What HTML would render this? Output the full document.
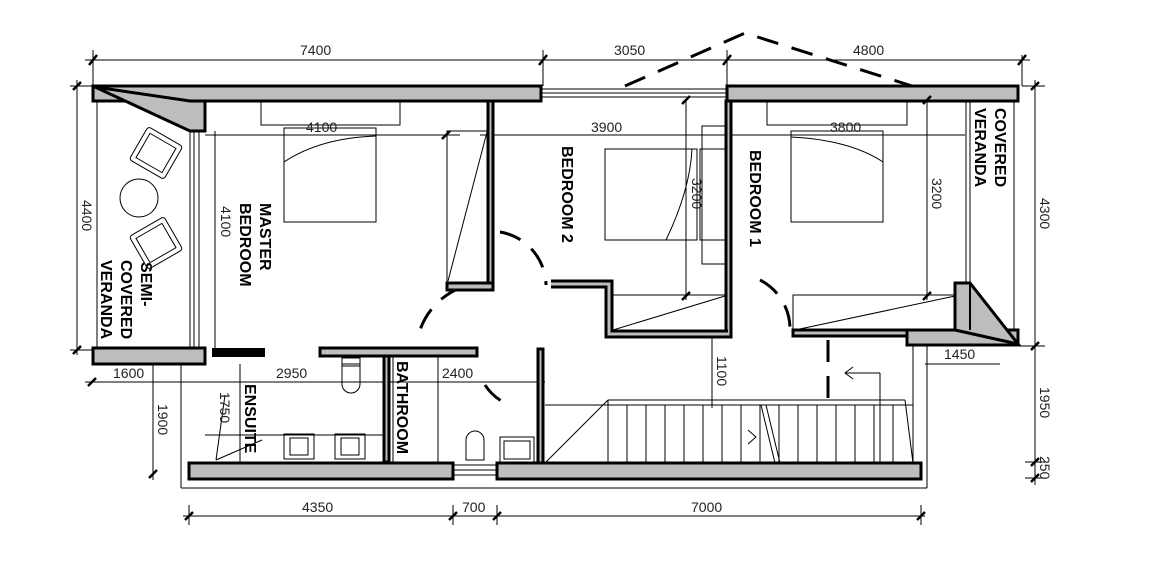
<!DOCTYPE html>
<html><head><meta charset="utf-8"><style>
html,body{margin:0;padding:0;background:#fff}
svg{display:block}
text{font-family:"Liberation Sans",sans-serif}
.d{font-size:14px;fill:#222}
.l{font-size:16px;fill:#000;font-weight:bold}
</style></head><body>
<svg width="1169" height="585" viewBox="0 0 1169 585" xmlns="http://www.w3.org/2000/svg">
<g fill="none" stroke="#000" stroke-width="1">
<line x1="85" y1="60" x2="1030" y2="60"/>
<line x1="93" y1="50" x2="93" y2="86"/><line x1="543" y1="50" x2="543" y2="86"/><line x1="727" y1="50" x2="727" y2="86"/><line x1="1022" y1="55" x2="1022" y2="86"/>
<line x1="77" y1="80" x2="77" y2="355"/><line x1="70" y1="86" x2="93" y2="86"/><line x1="70" y1="350" x2="93" y2="350"/>
<line x1="1035" y1="80" x2="1035" y2="485"/><line x1="1022" y1="86" x2="1045" y2="86"/><line x1="1018" y1="346" x2="1045" y2="346"/><line x1="1025" y1="462" x2="1045" y2="462"/><line x1="1025" y1="478" x2="1045" y2="478"/>
<line x1="183" y1="516" x2="925" y2="516"/>
<line x1="189" y1="505" x2="189" y2="525"/><line x1="453" y1="505" x2="453" y2="525"/><line x1="497" y1="505" x2="497" y2="525"/><line x1="921" y1="505" x2="921" y2="525"/>
<line x1="205" y1="135" x2="460" y2="135"/><line x1="480" y1="135" x2="965" y2="135"/>
<line x1="85" y1="382" x2="545" y2="382"/>
<line x1="215" y1="131" x2="215" y2="352"/>
<line x1="686" y1="100" x2="686" y2="300"/><line x1="927" y1="94" x2="927" y2="300"/>
<line x1="712" y1="337" x2="712" y2="408"/>
<line x1="153" y1="355" x2="153" y2="480"/>
<line x1="925" y1="364" x2="1000" y2="364"/>
<line x1="240" y1="364" x2="240" y2="470"/>
<line x1="181" y1="352" x2="181" y2="488"/><line x1="181" y1="488" x2="927" y2="488"/><line x1="927" y1="346" x2="927" y2="488"/>
<line x1="913" y1="346" x2="913" y2="463"/>
<line x1="541" y1="89" x2="727" y2="89"/><line x1="541" y1="93" x2="727" y2="93"/><line x1="541" y1="97" x2="727" y2="97"/>
<line x1="97" y1="88" x2="97" y2="348"/><line x1="190" y1="131" x2="190" y2="348"/><line x1="194" y1="131" x2="194" y2="348"/><line x1="199" y1="131" x2="199" y2="348"/>
<line x1="966" y1="101" x2="966" y2="283"/><line x1="970" y1="101" x2="970" y2="283"/><line x1="1014" y1="101" x2="1014" y2="330"/>
<rect x="261" y="101" width="139" height="24"/><rect x="284" y="128" width="92" height="94"/>
<path d="M284 162 Q320 138 376 136"/>
<rect x="605" y="149" width="92" height="91"/><rect x="700" y="149" width="27" height="91"/><rect x="702" y="126" width="25" height="138"/>
<path d="M666 240 Q690 190 692 149"/>
<rect x="767" y="101" width="140" height="24"/><rect x="791" y="131" width="92" height="91"/><path d="M791 137 Q850 140 883 162"/>
<rect x="447" y="131" width="41" height="152"/><line x1="448" y1="281" x2="487" y2="132"/>
<line x1="610" y1="295" x2="725" y2="295"/><line x1="613" y1="330" x2="725" y2="296"/>
<rect x="793" y="295" width="162" height="35"/><line x1="795" y1="330" x2="955" y2="296"/>
<g transform="rotate(30 156 153)"><rect x="136" y="134" width="40" height="38" rx="3"/><rect x="141" y="139" width="30" height="28"/></g>
<circle cx="139" cy="198" r="19"/>
<g transform="rotate(-30 156 243)"><rect x="136" y="224" width="40" height="38" rx="3"/><rect x="141" y="229" width="30" height="28"/></g>
<rect x="284" y="434" width="30" height="25"/><rect x="290" y="438" width="18" height="17"/>
<rect x="335" y="434" width="30" height="25"/><rect x="341" y="438" width="18" height="17"/>
<line x1="205" y1="435" x2="383" y2="435"/>
<path d="M342 364 v20 a9 9 0 0 0 18 0 v-20 z"/><rect x="342" y="358" width="18" height="8"/>
<path d="M466 460 v-20 a9 9 0 0 1 18 0 v20 z"/>
<rect x="500" y="437" width="34" height="26"/><rect x="504" y="441" width="26" height="18"/>
<rect x="393" y="357" width="45" height="105"/>
<line x1="453" y1="465" x2="497" y2="465"/><line x1="453" y1="470" x2="497" y2="470"/><line x1="453" y1="475" x2="497" y2="475"/>
<line x1="545" y1="405" x2="913" y2="405"/><line x1="608" y1="400" x2="905" y2="400"/>
<line x1="608" y1="400" x2="545" y2="463"/><line x1="905" y1="400" x2="913" y2="463"/>
<line x1="608" y1="400" x2="608" y2="463"/><line x1="627" y1="405" x2="627" y2="463"/><line x1="646" y1="405" x2="646" y2="463"/><line x1="665" y1="405" x2="665" y2="463"/><line x1="684" y1="405" x2="684" y2="463"/><line x1="703" y1="405" x2="703" y2="463"/><line x1="722" y1="405" x2="722" y2="463"/><line x1="741" y1="405" x2="741" y2="463"/><line x1="760" y1="405" x2="760" y2="463"/><line x1="779" y1="405" x2="779" y2="463"/><line x1="798" y1="405" x2="798" y2="463"/><line x1="817" y1="405" x2="817" y2="463"/><line x1="836" y1="405" x2="836" y2="463"/><line x1="855" y1="405" x2="855" y2="463"/><line x1="874" y1="405" x2="874" y2="463"/><line x1="893" y1="405" x2="893" y2="463"/>
<line x1="761" y1="405" x2="775" y2="463"/><line x1="766" y1="405" x2="780" y2="463"/>
<polyline points="748,430 756,437 748,444"/><line x1="845" y1="373" x2="880" y2="373"/><polyline points="853,367 845,373 853,379"/><line x1="880" y1="373" x2="880" y2="463"/>
<line x1="216" y1="460" x2="262" y2="440"/><line x1="216" y1="460" x2="225" y2="395"/>
</g>
<g fill="none" stroke="#000" stroke-width="3" stroke-dasharray="22 14">
<polyline points="625,86 745,33 912,86"/>
<path d="M500 232 A55 55 0 0 1 546 285"/>
<path d="M460 288 A70 70 0 0 0 420 330"/>
<path d="M485 385 A50 50 0 0 0 510 405"/>
<path d="M760 280 A55 55 0 0 1 790 330"/>
<line x1="828" y1="340" x2="828" y2="405"/>
</g>
<g fill="#bdbdbd" stroke="#000" stroke-width="3">
<rect x="93" y="86" width="448" height="15"/>
<polygon points="95,87 190,101 205,101 205,131 190,131"/>
<rect x="488" y="101" width="5" height="184"/>
<rect x="447" y="283" width="46" height="7"/>
<rect x="727" y="86" width="291" height="15"/>
<rect x="726" y="101" width="5" height="236"/>
<rect x="793" y="330" width="114" height="6"/>
<rect x="907" y="330" width="111" height="15"/>
<polygon points="955,283 970,283 1018,344 955,330"/>
<line x1="970" y1="283" x2="970" y2="330" stroke-width="2"/>
<rect x="93" y="348" width="112" height="16"/>
<rect x="320" y="348" width="157" height="8"/>
<rect x="384" y="356" width="5" height="106"/>
<rect x="538" y="349" width="5" height="114"/>
<rect x="189" y="463" width="264" height="16"/>
<rect x="497" y="463" width="424" height="16"/>
</g>
<polyline points="551,284 609,284 609,334 728,334" fill="none" stroke="#000" stroke-width="9"/>
<polyline points="551,284 609,284 609,334 728,334" fill="none" stroke="#bdbdbd" stroke-width="3"/>
<rect x="212" y="348" width="53" height="9" fill="#000"/>
<g stroke="#000" stroke-width="2.5">
<line x1="89" y1="65" x2="97" y2="55"/><line x1="539" y1="65" x2="547" y2="55"/><line x1="723" y1="65" x2="731" y2="55"/><line x1="1018" y1="65" x2="1026" y2="55"/>
<line x1="73" y1="90" x2="81" y2="82"/><line x1="73" y1="354" x2="81" y2="346"/>
<line x1="1031" y1="90" x2="1039" y2="82"/><line x1="1031" y1="350" x2="1039" y2="342"/><line x1="1031" y1="466" x2="1039" y2="458"/><line x1="1031" y1="482" x2="1039" y2="474"/>
<line x1="185" y1="520" x2="193" y2="512"/><line x1="449" y1="520" x2="457" y2="512"/><line x1="493" y1="520" x2="501" y2="512"/><line x1="917" y1="520" x2="925" y2="512"/>
<line x1="442" y1="139" x2="450" y2="131"/><line x1="682" y1="104" x2="690" y2="96"/><line x1="682" y1="300" x2="690" y2="292"/><line x1="923" y1="104" x2="931" y2="96"/><line x1="923" y1="300" x2="931" y2="292"/>
<line x1="149" y1="478" x2="157" y2="470"/><line x1="88" y1="386" x2="96" y2="378"/>
</g>
<g class="d">
<text x="300" y="55">7400</text><text x="614" y="55">3050</text><text x="853" y="55">4800</text>
<text x="306" y="132">4100</text><text x="591" y="132">3900</text><text x="830" y="132">3800</text>
<text x="113" y="378">1600</text><text x="276" y="378">2950</text><text x="442" y="378">2400</text>
<text x="944" y="359">1450</text>
<text x="302" y="512">4350</text><text x="462" y="512">700</text><text x="691" y="512">7000</text>
<text transform="translate(82,200) rotate(90)">4400</text>
<text transform="translate(221,206) rotate(90)">4100</text>
<text transform="translate(692,178) rotate(90)">3200</text>
<text transform="translate(932,178) rotate(90)">3200</text>
<text transform="translate(1040,198) rotate(90)">4300</text>
<text transform="translate(1040,387) rotate(90)">1950</text>
<text transform="translate(1040,456) rotate(90)">250</text>
<text transform="translate(717,356) rotate(90)">1100</text>
<text transform="translate(158,404) rotate(90)">1900</text>
<text transform="translate(220,392) rotate(90)">1750</text>
</g>
<g class="l">
<text transform="translate(260,203) rotate(90)">MASTER</text>
<text transform="translate(240,203) rotate(90)">BEDROOM</text>
<text transform="translate(141,262) rotate(90)">SEMI-</text>
<text transform="translate(121,260) rotate(90)">COVERED</text>
<text transform="translate(101,260) rotate(90)">VERANDA</text>
<text transform="translate(562,146) rotate(90)">BEDROOM 2</text>
<text transform="translate(750,150) rotate(90)">BEDROOM 1</text>
<text transform="translate(995,108) rotate(90)">COVERED</text>
<text transform="translate(975,108) rotate(90)">VERANDA</text>
<text transform="translate(245,384) rotate(90)">ENSUITE</text>
<text transform="translate(397,361) rotate(90)">BATHROOM</text>
</g>
</svg>
</body></html>
